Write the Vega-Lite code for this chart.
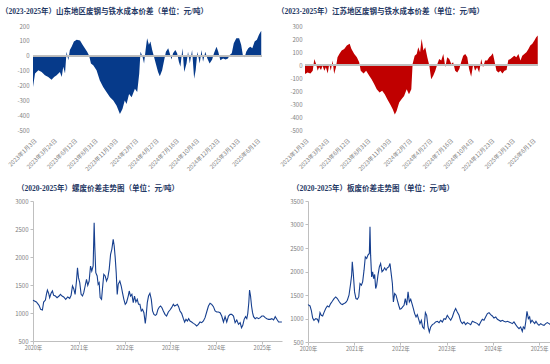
{
"$schema": "https://vega.github.io/schema/vega-lite/v6.json",
"padding": {"left": 1, "top": 7, "right": 2, "bottom": 2},
"background": "white",
"config": {
 "view": {"stroke": null},
 "font": "Noto Sans CJK SC",
 "axis": {"labelColor": "#808080", "labelFontSize": 6, "grid": false, "domainColor": "#bfbfbf", "tickColor": "#bfbfbf", "labelFont": "Noto Sans CJK SC", "title": null, "labelOverlap": false, "labelFlush": false},
 "title": {"fontSize": 7.5, "fontWeight": "bold", "color": "#1f3864", "font": "Liberation Serif, Noto Sans CJK SC", "anchor": "start", "frame": "group"}
},
"datasets": {
 "sd": [
  {"d":"2023/01/03","v":-210},{"d":"2023/01/11","v":-120},{"d":"2023/01/24","v":-98},{"d":"2023/02/06","v":-109},{"d":"2023/02/19","v":-132},{"d":"2023/03/04","v":-143},{"d":"2023/03/17","v":-161},{"d":"2023/03/27","v":-143},{"d":"2023/04/06","v":-132},{"d":"2023/04/19","v":-109},{"d":"2023/04/26","v":-143},{"d":"2023/05/02","v":-75},{"d":"2023/05/09","v":-120},{"d":"2023/05/15","v":27},{"d":"2023/05/22","v":-30},{"d":"2023/05/28","v":39},{"d":"2023/06/04","v":61},{"d":"2023/06/13","v":95},{"d":"2023/06/24","v":107},{"d":"2023/07/07","v":102},{"d":"2023/07/17","v":73},{"d":"2023/07/26","v":50},{"d":"2023/08/04","v":27},{"d":"2023/08/12","v":0},{"d":"2023/08/19","v":-52},{"d":"2023/08/28","v":-64},{"d":"2023/09/10","v":-98},{"d":"2023/09/23","v":-166},{"d":"2023/10/06","v":-211},{"d":"2023/10/19","v":-245},{"d":"2023/11/02","v":-280},{"d":"2023/11/15","v":-302},{"d":"2023/11/28","v":-336},{"d":"2023/12/11","v":-393},{"d":"2023/12/21","v":-359},{"d":"2023/12/30","v":-302},{"d":"2024/01/06","v":-325},{"d":"2024/01/16","v":-257},{"d":"2024/01/26","v":-280},{"d":"2024/02/08","v":-223},{"d":"2024/02/17","v":-245},{"d":"2024/02/25","v":-120},{"d":"2024/03/01","v":27},{"d":"2024/03/09","v":-7},{"d":"2024/03/15","v":-52},{"d":"2024/03/21","v":39},{"d":"2024/03/27","v":118},{"d":"2024/04/03","v":73},{"d":"2024/04/09","v":95},{"d":"2024/04/16","v":39},{"d":"2024/04/22","v":0},{"d":"2024/04/30","v":-52},{"d":"2024/05/09","v":-109},{"d":"2024/05/16","v":-139},{"d":"2024/05/25","v":-98},{"d":"2024/06/02","v":-30},{"d":"2024/06/09","v":27},{"d":"2024/06/18","v":50},{"d":"2024/06/24","v":16},{"d":"2024/07/01","v":-25},{"d":"2024/07/07","v":16},{"d":"2024/07/16","v":39},{"d":"2024/07/23","v":16},{"d":"2024/07/30","v":-41},{"d":"2024/08/05","v":-75},{"d":"2024/08/13","v":50},{"d":"2024/08/20","v":-109},{"d":"2024/08/29","v":-52},{"d":"2024/09/04","v":27},{"d":"2024/09/11","v":-52},{"d":"2024/09/20","v":39},{"d":"2024/09/28","v":-155},{"d":"2024/10/04","v":-98},{"d":"2024/10/11","v":27},{"d":"2024/10/20","v":-52},{"d":"2024/10/27","v":39},{"d":"2024/11/02","v":-41},{"d":"2024/11/11","v":27},{"d":"2024/11/19","v":-18},{"d":"2024/11/28","v":-52},{"d":"2024/12/08","v":-25},{"d":"2024/12/15","v":16},{"d":"2024/12/25","v":61},{"d":"2025/01/01","v":27},{"d":"2025/01/09","v":-30},{"d":"2025/01/20","v":-18},{"d":"2025/01/30","v":-25},{"d":"2025/02/08","v":-18},{"d":"2025/02/15","v":5},{"d":"2025/02/23","v":16},{"d":"2025/03/03","v":84},{"d":"2025/03/13","v":118},{"d":"2025/03/24","v":118},{"d":"2025/04/01","v":73},{"d":"2025/04/08","v":0},{"d":"2025/04/15","v":-11},{"d":"2025/04/21","v":27},{"d":"2025/04/29","v":50},{"d":"2025/05/07","v":61},{"d":"2025/05/15","v":50},{"d":"2025/05/24","v":95},{"d":"2025/06/02","v":107},{"d":"2025/06/10","v":141},{"d":"2025/06/19","v":168}
 ],
 "js": [
  {"d":"2023/01/03","v":-70},{"d":"2023/01/13","v":-57},{"d":"2023/01/24","v":-65},{"d":"2023/02/02","v":-44},{"d":"2023/02/08","v":47},{"d":"2023/02/15","v":8},{"d":"2023/02/21","v":-44},{"d":"2023/02/27","v":-18},{"d":"2023/03/06","v":-39},{"d":"2023/03/12","v":-5},{"d":"2023/03/19","v":-44},{"d":"2023/03/25","v":-18},{"d":"2023/04/01","v":-65},{"d":"2023/04/07","v":8},{"d":"2023/04/13","v":-44},{"d":"2023/04/20","v":34},{"d":"2023/04/26","v":-70},{"d":"2023/05/03","v":-18},{"d":"2023/05/09","v":60},{"d":"2023/05/16","v":85},{"d":"2023/05/25","v":111},{"d":"2023/06/04","v":124},{"d":"2023/06/14","v":150},{"d":"2023/06/25","v":163},{"d":"2023/07/02","v":124},{"d":"2023/07/13","v":85},{"d":"2023/07/23","v":60},{"d":"2023/08/01","v":21},{"d":"2023/08/07","v":-44},{"d":"2023/08/18","v":-65},{"d":"2023/08/28","v":-44},{"d":"2023/09/09","v":-83},{"d":"2023/09/18","v":-109},{"d":"2023/09/28","v":-147},{"d":"2023/10/08","v":-186},{"d":"2023/10/19","v":-212},{"d":"2023/10/29","v":-199},{"d":"2023/11/08","v":-225},{"d":"2023/11/18","v":-264},{"d":"2023/11/29","v":-302},{"d":"2023/12/09","v":-341},{"d":"2023/12/17","v":-380},{"d":"2023/12/24","v":-354},{"d":"2024/01/03","v":-289},{"d":"2024/01/12","v":-264},{"d":"2024/01/22","v":-238},{"d":"2024/02/01","v":-186},{"d":"2024/02/10","v":-225},{"d":"2024/02/19","v":-186},{"d":"2024/02/24","v":8},{"d":"2024/03/03","v":72},{"d":"2024/03/11","v":85},{"d":"2024/03/17","v":137},{"d":"2024/03/24","v":98},{"d":"2024/03/30","v":202},{"d":"2024/04/06","v":111},{"d":"2024/04/13","v":137},{"d":"2024/04/21","v":60},{"d":"2024/04/29","v":-5},{"d":"2024/05/06","v":-109},{"d":"2024/05/14","v":-83},{"d":"2024/05/22","v":-44},{"d":"2024/05/30","v":8},{"d":"2024/06/06","v":47},{"d":"2024/06/14","v":34},{"d":"2024/06/22","v":85},{"d":"2024/06/30","v":-18},{"d":"2024/07/07","v":60},{"d":"2024/07/15","v":47},{"d":"2024/07/23","v":8},{"d":"2024/07/30","v":21},{"d":"2024/08/07","v":-44},{"d":"2024/08/15","v":-57},{"d":"2024/08/23","v":-31},{"d":"2024/08/30","v":21},{"d":"2024/09/07","v":72},{"d":"2024/09/15","v":85},{"d":"2024/09/23","v":60},{"d":"2024/09/30","v":-31},{"d":"2024/10/08","v":-90},{"d":"2024/10/16","v":8},{"d":"2024/10/23","v":-44},{"d":"2024/10/31","v":-18},{"d":"2024/11/08","v":-57},{"d":"2024/11/16","v":47},{"d":"2024/11/23","v":-18},{"d":"2024/12/01","v":34},{"d":"2024/12/09","v":34},{"d":"2024/12/17","v":60},{"d":"2024/12/24","v":72},{"d":"2024/12/31","v":90},{"d":"2025/01/06","v":34},{"d":"2025/01/14","v":-44},{"d":"2025/01/22","v":-57},{"d":"2025/01/29","v":-44},{"d":"2025/02/06","v":-65},{"d":"2025/02/14","v":-44},{"d":"2025/02/22","v":-39},{"d":"2025/03/01","v":39},{"d":"2025/03/09","v":47},{"d":"2025/03/17","v":60},{"d":"2025/03/24","v":72},{"d":"2025/04/01","v":60},{"d":"2025/04/09","v":85},{"d":"2025/04/17","v":34},{"d":"2025/04/24","v":72},{"d":"2025/05/02","v":85},{"d":"2025/05/10","v":98},{"d":"2025/05/18","v":124},{"d":"2025/05/25","v":150},{"d":"2025/06/02","v":163},{"d":"2025/06/10","v":189},{"d":"2025/06/17","v":214},{"d":"2025/06/23","v":227}
 ],
 "lw": [
  {"d":"2020/01/01","v":1226},{"d":"2020/01/28","v":1196},{"d":"2020/02/18","v":1137},{"d":"2020/03/02","v":1065},{"d":"2020/03/16","v":1053},{"d":"2020/03/26","v":1196},{"d":"2020/04/09","v":1232},{"d":"2020/04/17","v":1333},{"d":"2020/04/25","v":1410},{"d":"2020/05/05","v":1351},{"d":"2020/05/13","v":1274},{"d":"2020/05/24","v":1351},{"d":"2020/06/04","v":1393},{"d":"2020/06/14","v":1315},{"d":"2020/06/28","v":1303},{"d":"2020/07/11","v":1274},{"d":"2020/07/27","v":1303},{"d":"2020/08/07","v":1333},{"d":"2020/08/20","v":1303},{"d":"2020/09/02","v":1286},{"d":"2020/09/18","v":1244},{"d":"2020/10/04","v":1286},{"d":"2020/10/20","v":1262},{"d":"2020/10/31","v":1315},{"d":"2020/11/11","v":1482},{"d":"2020/11/21","v":1434},{"d":"2020/12/02","v":1333},{"d":"2020/12/13","v":1571},{"d":"2020/12/21","v":1809},{"d":"2020/12/29","v":1631},{"d":"2021/01/08","v":1541},{"d":"2021/01/19","v":1333},{"d":"2021/01/30","v":1303},{"d":"2021/02/09","v":1363},{"d":"2021/02/20","v":1482},{"d":"2021/03/03","v":1601},{"d":"2021/03/13","v":1494},{"d":"2021/03/24","v":1571},{"d":"2021/04/04","v":1839},{"d":"2021/04/14","v":1750},{"d":"2021/04/25","v":1839},{"d":"2021/05/03","v":2613},{"d":"2021/05/08","v":2196},{"d":"2021/05/16","v":1720},{"d":"2021/05/27","v":1661},{"d":"2021/06/04","v":1512},{"d":"2021/06/12","v":1541},{"d":"2021/06/20","v":1274},{"d":"2021/07/01","v":1244},{"d":"2021/07/09","v":1452},{"d":"2021/07/19","v":1690},{"d":"2021/07/30","v":1661},{"d":"2021/08/10","v":1571},{"d":"2021/08/20","v":1631},{"d":"2021/08/31","v":1780},{"d":"2021/09/11","v":2047},{"d":"2021/09/21","v":2137},{"d":"2021/10/02","v":2315},{"d":"2021/10/10","v":2196},{"d":"2021/10/18","v":1988},{"d":"2021/10/26","v":1720},{"d":"2021/11/03","v":1333},{"d":"2021/11/11","v":1512},{"d":"2021/11/24","v":1571},{"d":"2021/12/05","v":1482},{"d":"2021/12/15","v":1363},{"d":"2021/12/26","v":1244},{"d":"2022/01/06","v":1155},{"d":"2022/01/16","v":1184},{"d":"2022/01/30","v":1303},{"d":"2022/02/07","v":1393},{"d":"2022/02/17","v":1303},{"d":"2022/02/28","v":1333},{"d":"2022/03/11","v":1184},{"d":"2022/03/21","v":1303},{"d":"2022/04/01","v":1196},{"d":"2022/04/12","v":1244},{"d":"2022/04/22","v":1155},{"d":"2022/05/03","v":1155},{"d":"2022/05/14","v":1036},{"d":"2022/05/24","v":1065},{"d":"2022/06/04","v":1006},{"d":"2022/06/15","v":815},{"d":"2022/06/23","v":976},{"d":"2022/07/01","v":1184},{"d":"2022/07/11","v":1303},{"d":"2022/07/22","v":1351},{"d":"2022/08/02","v":1244},{"d":"2022/08/12","v":1036},{"d":"2022/08/23","v":976},{"d":"2022/09/03","v":958},{"d":"2022/09/13","v":976},{"d":"2022/09/24","v":1065},{"d":"2022/10/05","v":1107},{"d":"2022/10/15","v":1125},{"d":"2022/10/26","v":1095},{"d":"2022/11/06","v":1036},{"d":"2022/11/19","v":976},{"d":"2022/12/02","v":946},{"d":"2022/12/16","v":1018},{"d":"2022/12/29","v":1053},{"d":"2023/01/11","v":1095},{"d":"2023/01/25","v":1155},{"d":"2023/02/04","v":1125},{"d":"2023/02/15","v":1137},{"d":"2023/02/26","v":1155},{"d":"2023/03/08","v":1113},{"d":"2023/03/19","v":1036},{"d":"2023/04/01","v":994},{"d":"2023/04/15","v":899},{"d":"2023/04/25","v":839},{"d":"2023/05/06","v":887},{"d":"2023/05/17","v":857},{"d":"2023/05/27","v":899},{"d":"2023/06/07","v":857},{"d":"2023/06/20","v":839},{"d":"2023/07/04","v":815},{"d":"2023/07/17","v":797},{"d":"2023/07/30","v":768},{"d":"2023/08/13","v":797},{"d":"2023/08/26","v":839},{"d":"2023/09/08","v":827},{"d":"2023/09/22","v":857},{"d":"2023/10/05","v":917},{"d":"2023/10/18","v":1018},{"d":"2023/11/01","v":1125},{"d":"2023/11/14","v":1173},{"d":"2023/11/27","v":1155},{"d":"2023/12/11","v":1113},{"d":"2023/12/24","v":1036},{"d":"2024/01/06","v":1018},{"d":"2024/01/20","v":1018},{"d":"2024/02/02","v":1006},{"d":"2024/02/15","v":946},{"d":"2024/02/29","v":839},{"d":"2024/03/13","v":934},{"d":"2024/03/26","v":839},{"d":"2024/04/09","v":946},{"d":"2024/04/22","v":976},{"d":"2024/05/05","v":976},{"d":"2024/05/19","v":946},{"d":"2024/06/01","v":827},{"d":"2024/06/14","v":875},{"d":"2024/06/28","v":797},{"d":"2024/07/11","v":827},{"d":"2024/07/22","v":738},{"d":"2024/08/01","v":780},{"d":"2024/08/12","v":887},{"d":"2024/08/23","v":934},{"d":"2024/09/02","v":899},{"d":"2024/09/10","v":994},{"d":"2024/09/18","v":1184},{"d":"2024/09/24","v":1410},{"d":"2024/10/02","v":1303},{"d":"2024/10/10","v":1125},{"d":"2024/10/18","v":1006},{"d":"2024/10/26","v":934},{"d":"2024/11/08","v":899},{"d":"2024/11/21","v":917},{"d":"2024/12/05","v":899},{"d":"2024/12/18","v":917},{"d":"2024/12/31","v":946},{"d":"2025/01/14","v":946},{"d":"2025/01/27","v":917},{"d":"2025/02/09","v":899},{"d":"2025/02/23","v":887},{"d":"2025/03/08","v":887},{"d":"2025/03/21","v":899},{"d":"2025/04/04","v":875},{"d":"2025/04/17","v":934},{"d":"2025/04/30","v":887},{"d":"2025/05/14","v":839},{"d":"2025/05/27","v":839},{"d":"2025/06/09","v":839}
 ],
 "bw": [
  {"d":"2020/01/01","v":1296},{"d":"2020/01/17","v":1267},{"d":"2020/01/27","v":1175},{"d":"2020/02/07","v":1011},{"d":"2020/02/17","v":962},{"d":"2020/03/02","v":997},{"d":"2020/03/15","v":983},{"d":"2020/03/25","v":926},{"d":"2020/04/05","v":1125},{"d":"2020/04/15","v":1068},{"d":"2020/04/26","v":1054},{"d":"2020/05/06","v":1125},{"d":"2020/05/20","v":1211},{"d":"2020/06/02","v":1267},{"d":"2020/06/15","v":1246},{"d":"2020/06/28","v":1317},{"d":"2020/07/11","v":1367},{"d":"2020/07/25","v":1424},{"d":"2020/08/07","v":1459},{"d":"2020/08/20","v":1424},{"d":"2020/09/02","v":1367},{"d":"2020/09/15","v":1317},{"d":"2020/09/28","v":1296},{"d":"2020/10/12","v":1317},{"d":"2020/10/25","v":1339},{"d":"2020/11/07","v":1389},{"d":"2020/11/20","v":1495},{"d":"2020/12/03","v":1744},{"d":"2020/12/11","v":1922},{"d":"2020/12/16","v":2206},{"d":"2020/12/24","v":1957},{"d":"2021/01/03","v":1566},{"d":"2021/01/14","v":1424},{"d":"2021/01/25","v":1410},{"d":"2021/02/05","v":1459},{"d":"2021/02/15","v":1744},{"d":"2021/02/26","v":1709},{"d":"2021/03/08","v":1780},{"d":"2021/03/19","v":2028},{"d":"2021/03/29","v":2313},{"d":"2021/04/09","v":2277},{"d":"2021/04/19","v":2348},{"d":"2021/04/30","v":2384},{"d":"2021/05/05","v":2953},{"d":"2021/05/10","v":2348},{"d":"2021/05/18","v":1886},{"d":"2021/05/26","v":1993},{"d":"2021/06/03","v":1850},{"d":"2021/06/11","v":1936},{"d":"2021/06/19","v":1637},{"d":"2021/06/27","v":1709},{"d":"2021/07/07","v":1922},{"d":"2021/07/18","v":2099},{"d":"2021/07/28","v":2170},{"d":"2021/08/08","v":1993},{"d":"2021/08/19","v":2028},{"d":"2021/08/29","v":2078},{"d":"2021/09/09","v":2028},{"d":"2021/09/19","v":2078},{"d":"2021/09/30","v":2099},{"d":"2021/10/10","v":2170},{"d":"2021/10/18","v":1993},{"d":"2021/10/29","v":1744},{"d":"2021/11/06","v":1353},{"d":"2021/11/16","v":1530},{"d":"2021/11/27","v":1495},{"d":"2021/12/07","v":1389},{"d":"2021/12/18","v":1282},{"d":"2021/12/28","v":1196},{"d":"2022/01/08","v":1211},{"d":"2022/01/18","v":1246},{"d":"2022/01/29","v":1282},{"d":"2022/02/08","v":1424},{"d":"2022/02/19","v":1282},{"d":"2022/03/02","v":1566},{"d":"2022/03/12","v":1353},{"d":"2022/03/23","v":1410},{"d":"2022/04/02","v":1317},{"d":"2022/04/13","v":1211},{"d":"2022/04/23","v":1104},{"d":"2022/05/04","v":1033},{"d":"2022/05/14","v":1083},{"d":"2022/05/25","v":983},{"d":"2022/06/04","v":891},{"d":"2022/06/15","v":962},{"d":"2022/06/25","v":820},{"d":"2022/07/06","v":784},{"d":"2022/07/17","v":1125},{"d":"2022/07/27","v":1068},{"d":"2022/08/07","v":820},{"d":"2022/08/17","v":713},{"d":"2022/08/28","v":820},{"d":"2022/09/10","v":869},{"d":"2022/09/23","v":891},{"d":"2022/10/06","v":926},{"d":"2022/10/19","v":940},{"d":"2022/11/02","v":912},{"d":"2022/11/15","v":962},{"d":"2022/11/28","v":926},{"d":"2022/12/11","v":997},{"d":"2022/12/24","v":983},{"d":"2023/01/06","v":1068},{"d":"2023/01/20","v":1011},{"d":"2023/02/02","v":962},{"d":"2023/02/15","v":1033},{"d":"2023/02/28","v":1139},{"d":"2023/03/13","v":1211},{"d":"2023/03/26","v":1139},{"d":"2023/04/09","v":1068},{"d":"2023/04/22","v":940},{"d":"2023/05/05","v":891},{"d":"2023/05/18","v":926},{"d":"2023/05/31","v":869},{"d":"2023/06/14","v":912},{"d":"2023/06/27","v":891},{"d":"2023/07/10","v":869},{"d":"2023/07/23","v":940},{"d":"2023/08/05","v":926},{"d":"2023/08/18","v":912},{"d":"2023/09/01","v":891},{"d":"2023/09/14","v":855},{"d":"2023/09/27","v":926},{"d":"2023/10/10","v":983},{"d":"2023/10/23","v":962},{"d":"2023/11/05","v":1033},{"d":"2023/11/19","v":1104},{"d":"2023/12/02","v":1125},{"d":"2023/12/15","v":1083},{"d":"2023/12/28","v":1054},{"d":"2024/01/10","v":1011},{"d":"2024/01/24","v":1033},{"d":"2024/02/06","v":983},{"d":"2024/02/19","v":962},{"d":"2024/03/03","v":940},{"d":"2024/03/16","v":962},{"d":"2024/03/29","v":940},{"d":"2024/04/12","v":926},{"d":"2024/04/25","v":940},{"d":"2024/05/08","v":926},{"d":"2024/05/21","v":912},{"d":"2024/06/03","v":891},{"d":"2024/06/16","v":926},{"d":"2024/06/30","v":869},{"d":"2024/07/13","v":820},{"d":"2024/07/26","v":784},{"d":"2024/08/08","v":820},{"d":"2024/08/21","v":727},{"d":"2024/08/29","v":820},{"d":"2024/09/09","v":784},{"d":"2024/09/17","v":926},{"d":"2024/09/27","v":1154},{"d":"2024/10/08","v":997},{"d":"2024/10/18","v":1033},{"d":"2024/10/26","v":912},{"d":"2024/11/06","v":962},{"d":"2024/11/16","v":926},{"d":"2024/11/27","v":891},{"d":"2024/12/07","v":940},{"d":"2024/12/18","v":891},{"d":"2024/12/31","v":855},{"d":"2025/01/13","v":891},{"d":"2025/01/26","v":869},{"d":"2025/02/09","v":855},{"d":"2025/02/22","v":891},{"d":"2025/03/07","v":912},{"d":"2025/03/20","v":891},{"d":"2025/04/02","v":869},{"d":"2025/04/15","v":891},{"d":"2025/04/29","v":855},{"d":"2025/05/12","v":891},{"d":"2025/05/25","v":834},{"d":"2025/06/15","v":820}
 ]
},
"spacing": 10,
"vconcat": [
 {"spacing": 14, "hconcat": [
  {"width": 229, "height": 104,
   "title": {"text": "（2023-2025年）山东地区废钢与铁水成本价差（单位：元/吨）", "dx": -32, "offset": 8},
   "data": {"name": "sd"},
   "encoding": {
    "x": {"field": "d", "type": "temporal", "scale": {"domain": [{"year": 2023, "month": 1, "date": 3}, {"year": 2025, "month": 6, "date": 22}]},
          "axis": {"values": [{"year":2023,"month":1,"date":3},{"year":2023,"month":3,"date":24},{"year":2023,"month":6,"date":12},{"year":2023,"month":8,"date":31},{"year":2023,"month":11,"date":19},{"year":2024,"month":2,"date":7},{"year":2024,"month":4,"date":27},{"year":2024,"month":7,"date":16},{"year":2024,"month":10,"date":4},{"year":2024,"month":12,"date":23},{"year":2025,"month":3,"date":13},{"year":2025,"month":6,"date":1}],
                   "format": "%Y年%-m月%-d日", "labelAngle": -45, "labelFontSize": 5.8, "domain": false, "ticks": false, "labelPadding": 7, "minExtent": 44, "maxExtent": 44, "labelFlush": false, "labelOverlap": false}},
    "y": {"field": "v", "type": "quantitative", "scale": {"domain": [-500, 200]},
          "axis": {"values": [-500,-400,-300,-200,-100,0,100,200], "labelExpr": "''+datum.value", "domain": false, "ticks": false, "labelPadding": 4, "minExtent": 32, "maxExtent": 32, "labelFlush": false, "labelOverlap": false}}
   },
   "layer": [
    {"mark": {"type": "area", "color": "#063a8a"}, "encoding": {"y2": {"datum": 0}}},
    {"mark": {"type": "rule", "color": "#bfbfbf", "strokeWidth": 0.8}, "encoding": {"x": {"value": 0}, "x2": {"value": 229}, "y": {"datum": 0}}}
   ]},
  {"width": 233, "height": 104,
   "title": {"text": "（2023-2025年）江苏地区废钢与铁水成本价差（单位：元/吨）", "dx": -28, "offset": 8},
   "data": {"name": "js"},
   "encoding": {
    "x": {"field": "d", "type": "temporal", "scale": {"domain": [{"year": 2023, "month": 1, "date": 3}, {"year": 2025, "month": 6, "date": 24}]},
          "axis": {"values": [{"year":2023,"month":1,"date":3},{"year":2023,"month":3,"date":24},{"year":2023,"month":6,"date":12},{"year":2023,"month":8,"date":31},{"year":2023,"month":11,"date":19},{"year":2024,"month":2,"date":7},{"year":2024,"month":4,"date":27},{"year":2024,"month":7,"date":16},{"year":2024,"month":10,"date":4},{"year":2024,"month":12,"date":23},{"year":2025,"month":3,"date":13},{"year":2025,"month":6,"date":1}],
                   "format": "%Y年%-m月%-d日", "labelAngle": -45, "labelFontSize": 5.8, "domain": false, "ticks": false, "labelPadding": 7, "minExtent": 44, "maxExtent": 44, "labelFlush": false, "labelOverlap": false}},
    "y": {"field": "v", "type": "quantitative", "scale": {"domain": [-500, 300]},
          "axis": {"values": [-500,-400,-300,-200,-100,0,100,200,300], "labelExpr": "''+datum.value", "domain": false, "ticks": false, "labelPadding": 3, "minExtent": 28, "maxExtent": 28, "labelFlush": false, "labelOverlap": false}}
   },
   "layer": [
    {"mark": {"type": "area", "color": "#c00000"}, "encoding": {"y2": {"datum": 0}}},
    {"mark": {"type": "rule", "color": "#bfbfbf", "strokeWidth": 0.8}, "encoding": {"x": {"value": 0}, "x2": {"value": 233}, "y": {"datum": 0}}}
   ]}
 ]},
 {"spacing": 4, "hconcat": [
  {"width": 249, "height": 140,
   "title": {"text": "（2020-2025年）螺废价差走势图（单位：元/吨）", "dx": -16, "offset": 6},
   "data": {"name": "lw"},
   "mark": {"type": "line", "color": "#163f8f", "strokeWidth": 1.1},
   "encoding": {
    "x": {"field": "d", "type": "temporal", "scale": {"domain": [{"year": 2020, "month": 1, "date": 1}, {"year": 2025, "month": 6, "date": 10}]},
          "axis": {"values": [{"year":2020,"month":1,"date":1},{"year":2021,"month":1,"date":1},{"year":2022,"month":1,"date":1},{"year":2023,"month":1,"date":1},{"year":2024,"month":1,"date":1},{"year":2025,"month":1,"date":1}],
                   "format": "%Y年", "labelAngle": 0, "labelAlign": "center", "tickSize": 3, "labelPadding": 1, "labelFontSize": 5.5, "labelFlush": false, "labelOverlap": false}},
    "y": {"field": "v", "type": "quantitative", "scale": {"domain": [500, 3000]},
          "axis": {"values": [500,1000,1500,2000,2500,3000], "format": "d", "tickSize": 3, "labelPadding": 2, "minExtent": 22, "maxExtent": 22, "labelFlush": false}}}},
  {"width": 252, "height": 141,
   "title": {"text": "（2020-2025年）板废价差走势图（单位：元/吨）", "dx": -16, "offset": 6},
   "data": {"name": "bw"},
   "mark": {"type": "line", "color": "#163f8f", "strokeWidth": 1.1},
   "encoding": {
    "x": {"field": "d", "type": "temporal", "scale": {"domain": [{"year": 2020, "month": 1, "date": 1}, {"year": 2025, "month": 6, "date": 15}]},
          "axis": {"values": [{"year":2020,"month":1,"date":1},{"year":2021,"month":1,"date":1},{"year":2022,"month":1,"date":1},{"year":2023,"month":1,"date":1},{"year":2024,"month":1,"date":1},{"year":2025,"month":1,"date":1}],
                   "format": "%Y年", "labelAngle": 0, "labelAlign": "center", "tickSize": 3, "labelPadding": 1, "labelFontSize": 5.5, "labelFlush": false, "labelOverlap": false}},
    "y": {"field": "v", "type": "quantitative", "scale": {"domain": [500, 3500]},
          "axis": {"values": [500,1000,1500,2000,2500,3000,3500], "format": "d", "tickSize": 3, "labelPadding": 2, "minExtent": 16, "maxExtent": 16, "labelFlush": false}}}}
 ]}
]
}
